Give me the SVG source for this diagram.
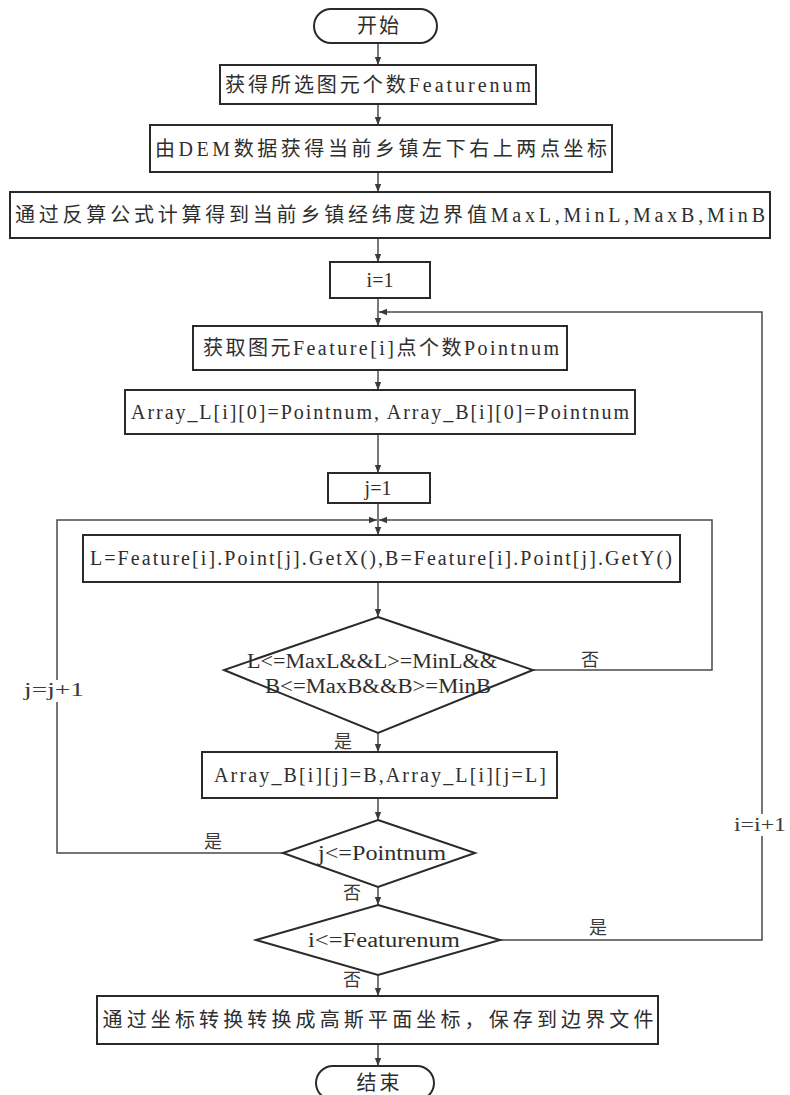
<svg xmlns="http://www.w3.org/2000/svg" width="790" height="1095" viewBox="0 0 790 1095">
  <style>
    .box { fill: #ffffff; stroke: #2a2a2a; stroke-width: 2; }
    .term { fill: #ffffff; stroke: #2a2a2a; stroke-width: 2; }
    .edge { fill: none; stroke: #4a4a4a; stroke-width: 1.5; }
    .txt { font-family: "Liberation Serif", "Noto Sans CJK SC", serif; font-size: 20px; fill: #2e2e2e; text-anchor: middle; dominant-baseline: central; }
    .lbl { font-family: "Liberation Serif", "Noto Sans CJK SC", serif; font-size: 18px; fill: #3a3a3a; text-anchor: middle; dominant-baseline: central; }
  </style>
  <defs>
    <marker id="arrow" viewBox="0 0 10 10" refX="10" refY="5" markerWidth="10" markerHeight="8" markerUnits="userSpaceOnUse" orient="auto">
      <path d="M0,1 L10,5 L0,9 Z" fill="#3a3a3a"/>
    </marker>
  </defs>
  <rect width="790" height="1095" fill="#ffffff"/>

  <!-- connectors -->
  <g id="connectors">
    <line class="edge" x1="378" y1="43" x2="378" y2="65" marker-end="url(#arrow)"/>
    <line class="edge" x1="378" y1="104" x2="378" y2="125" marker-end="url(#arrow)"/>
    <line class="edge" x1="378" y1="172" x2="378" y2="192" marker-end="url(#arrow)"/>
    <line class="edge" x1="378" y1="238" x2="378" y2="262" marker-end="url(#arrow)"/>
    <line class="edge" x1="378" y1="298" x2="378" y2="326" marker-end="url(#arrow)"/>
    <line class="edge" x1="378" y1="370" x2="378" y2="390" marker-end="url(#arrow)"/>
    <line class="edge" x1="378" y1="434" x2="378" y2="473" marker-end="url(#arrow)"/>
    <line class="edge" x1="378" y1="503" x2="378" y2="535" marker-end="url(#arrow)"/>
    <line class="edge" x1="378" y1="582" x2="378" y2="617" marker-end="url(#arrow)"/>
    <line class="edge" x1="378" y1="733" x2="378" y2="752" marker-end="url(#arrow)"/>
    <line class="edge" x1="378" y1="798" x2="378" y2="820" marker-end="url(#arrow)"/>
    <line class="edge" x1="378" y1="887" x2="378" y2="905" marker-end="url(#arrow)"/>
    <line class="edge" x1="378" y1="975" x2="378" y2="996" marker-end="url(#arrow)"/>
    <line class="edge" x1="378" y1="1044" x2="378" y2="1066" marker-end="url(#arrow)"/>
    <!-- outer loop: i=i+1 -->
    <path class="edge" d="M500,940 H762 V312 H379" marker-end="url(#arrow)"/>
    <!-- inner loop: j=j+1 -->
    <path class="edge" d="M283,853 H57 V520 H377" marker-end="url(#arrow)"/>
    <!-- condition false: skip point -->
    <path class="edge" d="M533,670 H712 V520 H379" marker-end="url(#arrow)"/>
  </g>

  <g id="start">
    <rect class="term" x="314" y="9" width="123" height="34" rx="17"/>
    <text class="txt" x="378" y="26" textLength="42" lengthAdjust="spacing">开始</text>
  </g>
  <g id="get-count">
    <rect class="box" x="220" y="65" width="316" height="39"/>
    <text class="txt" x="378" y="85" textLength="306" lengthAdjust="spacing">获得所选图元个数Featurenum</text>
  </g>
  <g id="dem-corners">
    <rect class="box" x="150" y="125" width="462" height="47"/>
    <text class="txt" x="381" y="149" textLength="452" lengthAdjust="spacing">由DEM数据获得当前乡镇左下右上两点坐标</text>
  </g>
  <g id="bounds">
    <rect class="box" x="10" y="192" width="760" height="46"/>
    <text class="txt" x="390" y="215" textLength="750" lengthAdjust="spacing">通过反算公式计算得到当前乡镇经纬度边界值MaxL,MinL,MaxB,MinB</text>
  </g>
  <g id="init-i">
    <rect class="box" x="330" y="262" width="100" height="36"/>
    <text class="txt" x="380" y="280">i=1</text>
  </g>
  <g id="get-points">
    <rect class="box" x="193" y="326" width="374" height="44"/>
    <text class="txt" x="381" y="348" textLength="356" lengthAdjust="spacing">获取图元Feature[i]点个数Pointnum</text>
  </g>
  <g id="init-arrays">
    <rect class="box" x="125" y="390" width="510" height="44"/>
    <text class="txt" x="380" y="412" textLength="498" lengthAdjust="spacing">Array_L[i][0]=Pointnum, Array_B[i][0]=Pointnum</text>
  </g>
  <g id="init-j">
    <rect class="box" x="328" y="473" width="102" height="30"/>
    <text class="txt" x="378" y="488">j=1</text>
  </g>
  <g id="read-point">
    <rect class="box" x="83" y="535" width="597" height="47"/>
    <text class="txt" x="381" y="558" textLength="582" lengthAdjust="spacing">L=Feature[i].Point[j].GetX(),B=Feature[i].Point[j].GetY()</text>
  </g>
  <g id="in-bounds">
    <polygon class="box" points="378,617 533,670 378,733 224,670"/>
    <text class="txt" x="372" y="661" textLength="250" lengthAdjust="spacingAndGlyphs">L&lt;=MaxL&amp;&amp;L&gt;=MinL&amp;&amp;</text>
    <text class="txt" x="378" y="686" textLength="226" lengthAdjust="spacingAndGlyphs">B&lt;=MaxB&amp;&amp;B&gt;=MinB</text>
  </g>
  <g id="store-point">
    <rect class="box" x="202" y="752" width="355" height="46"/>
    <text class="txt" x="380" y="775" textLength="332" lengthAdjust="spacing">Array_B[i][j]=B,Array_L[i][j=L]</text>
  </g>
  <g id="more-points">
    <polygon class="box" points="378,820 475,853 378,887 283,853"/>
    <text class="txt" x="382" y="853" textLength="128" lengthAdjust="spacingAndGlyphs">j&lt;=Pointnum</text>
  </g>
  <g id="more-features">
    <polygon class="box" points="378,905 500,940 378,975 256,940"/>
    <text class="txt" x="384" y="940" textLength="152" lengthAdjust="spacingAndGlyphs">i&lt;=Featurenum</text>
  </g>
  <g id="gauss-save">
    <rect class="box" x="97" y="996" width="561" height="48"/>
    <text class="txt" x="378" y="1020" textLength="551" lengthAdjust="spacing">通过坐标转换转换成高斯平面坐标，保存到边界文件</text>
  </g>
  <g id="end">
    <rect class="term" x="316" y="1066" width="118" height="34" rx="17"/>
    <text class="txt" x="378" y="1083" textLength="43" lengthAdjust="spacing">结束</text>
  </g>

  <!-- branch labels -->
  <g id="labels">
    <text class="lbl" x="590" y="660">否</text>
    <text class="lbl" x="343" y="742">是</text>
    <text class="lbl" x="213" y="842">是</text>
    <text class="lbl" x="352" y="893">否</text>
    <text class="lbl" x="598" y="928">是</text>
    <text class="lbl" x="352" y="980">否</text>
    <rect x="24" y="680" width="60" height="22" fill="#ffffff"/>
    <text class="lbl" x="54" y="690" textLength="60" lengthAdjust="spacingAndGlyphs">j=j+1</text>
    <rect x="734" y="814" width="54" height="22" fill="#ffffff"/>
    <text class="lbl" x="760" y="825" textLength="52" lengthAdjust="spacingAndGlyphs">i=i+1</text>
  </g>
</svg>
